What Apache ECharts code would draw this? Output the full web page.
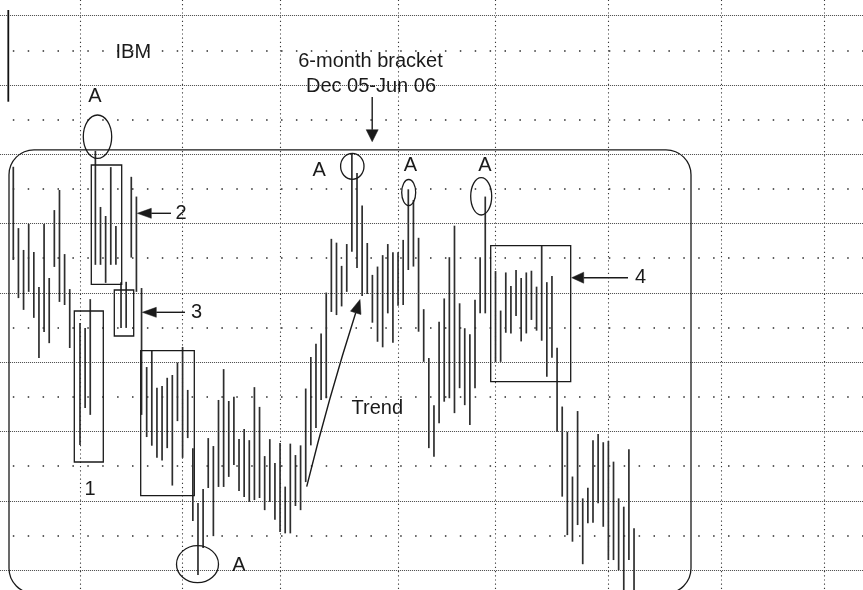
<!DOCTYPE html>
<html>
<head>
<meta charset="utf-8">
<script src="https://cdn.jsdelivr.net/npm/echarts@6.0.0/dist/echarts.min.js"></script>
<style>
html,body{margin:0;padding:0;background:#fff;}
#c{width:863px;height:590px;}
</style>
</head>
<body>
<div id="c"></div>
<script>
// Daily high / low prices (IBM), one entry per trading day; null = no visible bar
const highs = [
  85.64, 83.87, 83.24, 83.99, 83.18, 82.17, 83.99, 82.43, 84.39, 84.97,
  83.12, 82.11, null,  81.13, 80.99, 81.82, 86.10, 84.48, 84.22, 85.63,
  83.93, 82.31, 82.32, 85.35, 84.78, 82.14, 79.86, 80.33, 79.26, 79.31,
  79.55, 79.63, 79.99, 80.44, 79.20, 77.52, 75.94, 76.34, 77.81, 77.58,
  78.91, 79.80, 78.88, 79.00, 77.78, 78.07, 77.75, 79.28, 78.71, 77.29,
  77.78, 77.09, 77.67, 76.41, 77.65, 77.32, 77.60, 79.24, 80.15, 80.53,
  80.83, 82.01, 83.56, 83.45, 82.78, 83.41, 86.01, 85.46, 84.52, 83.44,
  82.52, 82.76, 83.09, 83.41, 83.17, 83.17, 83.53, 84.99, 84.68, 83.59,
  81.53, 80.12, 78.76, 81.17, 81.84, 83.03, 83.94, 81.70, 80.98, 80.81,
  81.80, 83.03, 84.78, null,  82.63, 81.49, 82.59, 82.20, 82.66, 82.43,
  82.59, 82.64, 82.18, 83.36, 82.31, 82.49, 80.42, 78.72, 77.99, 76.70,
  78.59, 76.07, 76.38, 77.75, 77.93, 77.69, 77.73, 77.13, 76.07, 75.83,
  77.49, 75.21
];
const lows = [
  82.95, 81.85, 81.51, 82.03, 81.28, 80.12, 80.87, 80.55, 82.75, 81.74,
  81.65, 80.41, null,  77.61, 78.68, 78.48, 82.81, 82.81, 82.29, 82.81,
  82.81, 80.99, 80.99, 83.02, 82.03, 78.48, 77.84, 77.59, 77.24, 77.16,
  77.52, 76.44, 78.30, 77.24, 77.81, 75.42, 73.86, 74.64, 76.37, 74.98,
  76.40, 76.40, 76.69, 77.03, 76.28, 76.11, 75.97, 76.02, 76.08, 75.73,
  75.97, 75.45, 75.10, 75.06, 75.06, 75.85, 75.73, 76.54, 77.60, 78.10,
  78.91, 78.96, 81.45, 81.36, 81.61, 82.03, 83.19, 82.72, 81.91, 81.97,
  81.14, 80.59, 80.43, 81.41, 80.56, 81.63, 81.65, 82.66, 82.76, 80.88,
  80.01, 77.52, 77.27, 78.24, 78.86, 78.96, 78.53, 79.25, 78.76, 78.19,
  79.25, 81.41, 81.41, null,  80.01, 80.01, 80.85, 80.83, 81.33, 80.60,
  80.83, 81.22, 80.91, 80.62, 79.58, 80.13, 77.99, 76.12, 75.01, 74.82,
  75.30, 74.17, 75.35, 75.37, 75.93, 75.25, 74.29, 74.29, 74.00, 73.37,
  74.29, 73.37
];
// Trading-day index where each new month begins (vertical grid lines)
const monthStarts = [13, 33, 52, 75, 94, 116, 138, 158];
// Price levels drawn as sparse dotted lines (even levels come from the axis)
const oddLevels = [73, 75, 77, 79, 81, 83, 85, 87, 89, 91];
// Annotation texts
const titleText = 'IBM';
const bracketText = ['6-month bracket', 'Dec 05-Jun 06'];
const trendText = 'Trend';

const INK = '#1a1a1a';
const FONT = '20px "Liberation Sans", Arial, sans-serif';

const bars = [];
highs.forEach(function (h, i) {
  if (h != null && lows[i] != null) bars.push([i, lows[i], h]);
});

function label(t, x, y) {
  return { type: 'text', x: x, y: y, z: 20, silent: true,
    style: { text: t, font: FONT, fill: INK, align: 'center', verticalAlign: 'middle' } };
}
function box(x1, y1, x2, y2) {
  return { type: 'rect', z: 15, silent: true, shape: { x: x1, y: y1, width: x2 - x1, height: y2 - y1 },
    style: { fill: null, stroke: INK, lineWidth: 1.3 } };
}
function ell(cx, cy, rx, ry) {
  return { type: 'ellipse', z: 15, silent: true, shape: { cx: cx, cy: cy, rx: rx, ry: ry },
    style: { fill: null, stroke: INK, lineWidth: 1.3 } };
}
function head(tx, ty, ux, uy, len, w) {
  const bx = tx - ux * len, by = ty - uy * len;
  return { type: 'polygon', z: 16, silent: true,
    shape: { points: [[tx, ty], [bx - uy * w / 2, by + ux * w / 2], [bx + uy * w / 2, by - ux * w / 2]] },
    style: { fill: INK, stroke: INK, lineWidth: 0.5 } };
}
function arrow(x1, y1, x2, y2, len, w) {
  const dx = x2 - x1, dy = y2 - y1, L = Math.hypot(dx, dy), ux = dx / L, uy = dy / L;
  return [
    { type: 'line', z: 16, silent: true, shape: { x1: x1, y1: y1, x2: x2 - ux * len, y2: y2 - uy * len },
      style: { stroke: INK, lineWidth: 1.4 } },
    head(x2, y2, ux, uy, len, w)
  ];
}
function curvedArrow(sx, sy, cx, cy, tx, ty, len, w) {
  const dx = tx - cx, dy = ty - cy, L = Math.hypot(dx, dy), ux = dx / L, uy = dy / L;
  const bx = tx - ux * len, by = ty - uy * len;
  return [
    { type: 'bezierCurve', z: 16, silent: true,
      shape: { x1: sx, y1: sy, x2: bx, y2: by, cpx1: cx, cpy1: cy },
      style: { stroke: INK, lineWidth: 1.4, fill: null } },
    head(tx, ty, ux, uy, len, w)
  ];
}

const graphics = [].concat(
  [
    { type: 'line', z: 15, silent: true, shape: { x1: 8.3, y1: 10, x2: 8.3, y2: 101.7 },
      style: { stroke: '#111', lineWidth: 1.8 } },
    { type: 'rect', z: 15, silent: true, shape: { x: 9, y: 149.8, width: 682, height: 443.5, r: 25 },
      style: { fill: null, stroke: INK, lineWidth: 1.3 } },
    box(74.3, 311, 103.3, 462),
    box(91.3, 165, 121.7, 284.3),
    box(114.3, 290, 133.7, 336),
    box(140.7, 350.7, 194.3, 495.7),
    box(490.7, 245.7, 570.7, 381.7),
    ell(97.5, 136.7, 14.2, 21.7),
    ell(352.3, 166.3, 11.7, 13),
    ell(408.7, 192.5, 7, 13),
    ell(481.2, 196.3, 10.5, 18.7),
    ell(197.5, 564.2, 21, 18.5),
    label(titleText, 133.3, 52.5),
    label('A', 95, 96.7),
    label('A', 319.2, 170.8),
    label('A', 410.3, 165.5),
    label('A', 485, 165),
    label('A', 238.8, 565),
    label('1', 90, 489),
    label('2', 181, 213.3),
    label('3', 196.5, 312.5),
    label('4', 640.5, 277.5),
    label(trendText, 377.3, 408.3),
    label(bracketText[0], 370.5, 61),
    label(bracketText[1], 371, 86.5)
  ],
  arrow(171, 213.3, 137.3, 213.3, 14, 10),
  arrow(185, 312.3, 142.3, 312.3, 14, 10),
  arrow(628, 277.7, 571.7, 277.7, 12, 11),
  arrow(372.2, 97, 372.2, 141.7, 12, 12),
  curvedArrow(306.7, 486.7, 328.7, 397.4, 360, 299.5, 14, 11)
);

const chart = echarts.init(document.getElementById('c'), null, { renderer: 'canvas' });
chart.setOption({
  animation: false,
  backgroundColor: '#ffffff',
  grid: { left: -2.09, top: -53.6, width: 866.97, height: 693, containLabel: false, outerBoundsMode: 'none' },
  xAxis: { type: 'value', min: -3, max: 166, show: false },
  yAxis: {
    type: 'value', min: 72, max: 92, interval: 2,
    axisLine: { show: false }, axisTick: { show: false }, axisLabel: { show: false },
    splitLine: { show: true, lineStyle: { color: '#444', width: 1, type: [1, 1] } }
  },
  series: [
    {
      type: 'line', data: [], z: 1, silent: true,
      markLine: {
        silent: true, symbol: ['none', 'none'], label: { show: false }, animation: false,
        emphasis: { disabled: true },
        data: oddLevels.map(function (v) {
          return { yAxis: v, lineStyle: { color: '#2a2a2a', width: 1.5, type: [1.5, 13.4] } };
        }).concat(monthStarts.map(function (v) {
          return { xAxis: v, lineStyle: { color: '#3a3a3a', width: 1.1, type: [1.2, 3] } };
        }))
      }
    },
    {
      type: 'custom', z: 5, silent: true,
      encode: { x: 0, y: [1, 2] },
      data: bars,
      renderItem: function (params, api) {
        const i = api.value(0);
        const p1 = api.coord([i, api.value(2)]);
        const p2 = api.coord([i, api.value(1)]);
        return { type: 'line', shape: { x1: p1[0], y1: p1[1], x2: p2[0], y2: p2[1] },
          style: { stroke: '#2e2e2e', lineWidth: 1.7 } };
      }
    }
  ],
  graphic: { elements: graphics }
});
</script>
</body>
</html>
